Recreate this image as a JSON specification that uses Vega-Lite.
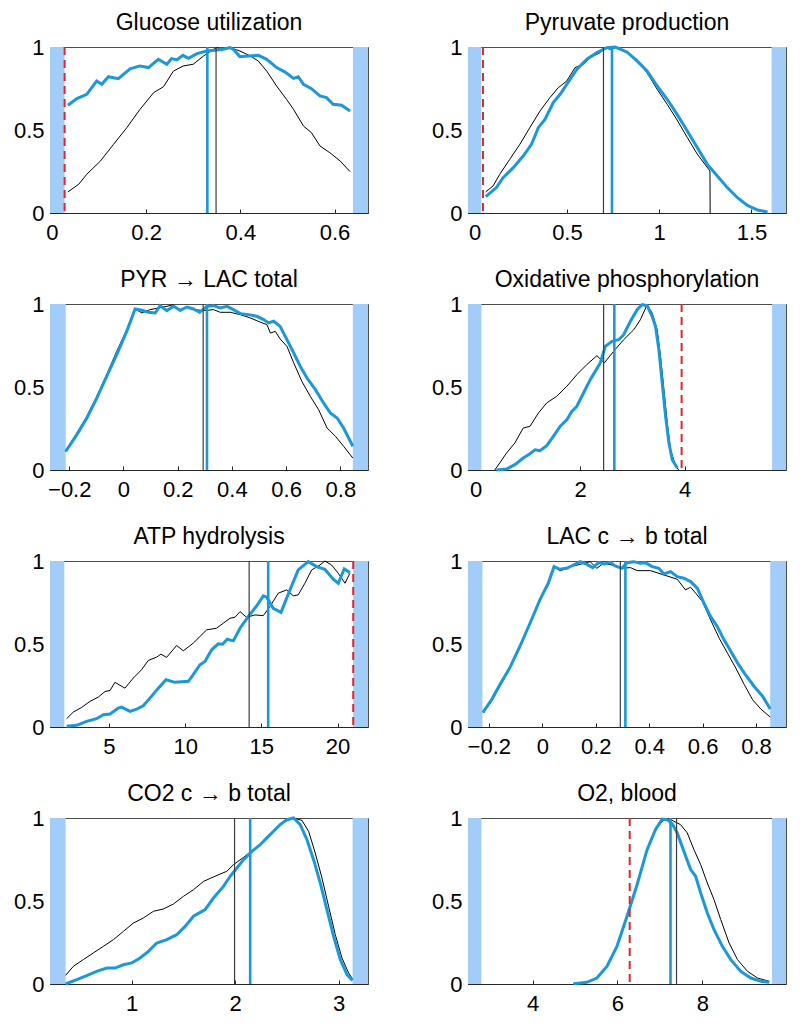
{
"$schema": "https://vega.github.io/schema/vega-lite/v6.json",
"padding": {"left": 12, "top": 11, "right": 10, "bottom": 10},
"background": "white",
"config": {
  "font": "Liberation Sans",
  "view": {"stroke": "#4d4d4d", "strokeWidth": 1},
  "axis": {"grid": false, "labelFont": "Liberation Sans", "labelFontSize": 22, "labelColor": "#000000", "domainColor": "#262626", "domainWidth": 1, "tickColor": "#262626", "tickSize": -4, "labelFlush": false, "labelOverlap": false, "zindex": 1},
  "axisX": {"labelPadding": 13.5},
  "axisY": {"labelPadding": 6, "ticks": false},
  "title": {"fontSize": 23, "font": "Liberation Sans", "fontWeight": "normal", "color": "#000000", "frame": "group", "anchor": "middle", "offset": 1}
},
"datasets": {
  "shades": [
    {"panel": 1, "x": -0.004, "x2": 0.027}, {"panel": 1, "x": 0.639, "x2": 0.671},
    {"panel": 2, "x": -0.036, "x2": 0.036}, {"panel": 2, "x": 1.609, "x2": 1.687},
    {"panel": 3, "x": -0.271, "x2": -0.213}, {"panel": 3, "x": 0.846, "x2": 0.902},
    {"panel": 4, "x": -0.147, "x2": 0.109}, {"panel": 4, "x": 5.673, "x2": 5.94},
    {"panel": 5, "x": 1.13, "x2": 2.07}, {"panel": 5, "x": 21.03, "x2": 22.0},
    {"panel": 6, "x": -0.278, "x2": -0.224}, {"panel": 6, "x": 0.853, "x2": 0.912},
    {"panel": 7, "x": 0.21, "x2": 0.361}, {"panel": 7, "x": 3.135, "x2": 3.284},
    {"panel": 8, "x": 2.477, "x2": 2.793}, {"panel": 8, "x": 9.641, "x2": 9.972}
  ],
  "vlines": [
    {"panel": 1, "kind": "k", "x": 0.3485}, {"panel": 1, "kind": "b", "x": 0.330}, {"panel": 1, "kind": "r", "x": 0.027},
    {"panel": 2, "kind": "k", "x": 0.698}, {"panel": 2, "kind": "b", "x": 0.744}, {"panel": 2, "kind": "r", "x": 0.045},
    {"panel": 3, "kind": "k", "x": 0.294}, {"panel": 3, "kind": "b", "x": 0.308},
    {"panel": 4, "kind": "k", "x": 2.449}, {"panel": 4, "kind": "b", "x": 2.654}, {"panel": 4, "kind": "r", "x": 3.942},
    {"panel": 5, "kind": "k", "x": 14.2}, {"panel": 5, "kind": "b", "x": 15.45}, {"panel": 5, "kind": "r", "x": 21.03},
    {"panel": 6, "kind": "k", "x": 0.292}, {"panel": 6, "kind": "b", "x": 0.311},
    {"panel": 7, "kind": "k", "x": 1.994}, {"panel": 7, "kind": "b", "x": 2.145},
    {"panel": 8, "kind": "k", "x": 7.392}, {"panel": 8, "kind": "b", "x": 7.25}, {"panel": 8, "kind": "r", "x": 6.288}
  ],
  "curves": [
    {"panel":1,"series":"k","x":0.034,"y":0.127},{"panel":1,"series":"k","x":0.057,"y":0.173},{"panel":1,"series":"k","x":0.074,"y":0.233},{"panel":1,"series":"k","x":0.103,"y":0.313},{"panel":1,"series":"k","x":0.131,"y":0.414},{"panel":1,"series":"k","x":0.159,"y":0.514},{"panel":1,"series":"k","x":0.187,"y":0.624},{"panel":1,"series":"k","x":0.216,"y":0.725},{"panel":1,"series":"k","x":0.237,"y":0.761},{"panel":1,"series":"k","x":0.258,"y":0.855},{"panel":1,"series":"k","x":0.279,"y":0.886},{"panel":1,"series":"k","x":0.300,"y":0.896},{"panel":1,"series":"k","x":0.322,"y":0.946},{"panel":1,"series":"k","x":0.343,"y":0.986},{"panel":1,"series":"k","x":0.351,"y":0.996},{"panel":1,"series":"k","x":0.360,"y":0.982},{"panel":1,"series":"k","x":0.378,"y":0.996},{"panel":1,"series":"k","x":0.399,"y":0.976},{"panel":1,"series":"k","x":0.421,"y":0.946},{"panel":1,"series":"k","x":0.438,"y":0.916},{"panel":1,"series":"k","x":0.456,"y":0.855},{"panel":1,"series":"k","x":0.477,"y":0.765},{"panel":1,"series":"k","x":0.498,"y":0.685},{"panel":1,"series":"k","x":0.513,"y":0.624},{"panel":1,"series":"k","x":0.534,"y":0.524},{"panel":1,"series":"k","x":0.551,"y":0.484},{"panel":1,"series":"k","x":0.569,"y":0.404},{"panel":1,"series":"k","x":0.590,"y":0.363},{"panel":1,"series":"k","x":0.612,"y":0.313},{"panel":1,"series":"k","x":0.633,"y":0.249},
    {"panel":1,"series":"b","x":0.034,"y":0.649},{"panel":1,"series":"b","x":0.053,"y":0.689},{"panel":1,"series":"b","x":0.074,"y":0.715},{"panel":1,"series":"b","x":0.095,"y":0.795},{"panel":1,"series":"b","x":0.106,"y":0.775},{"panel":1,"series":"b","x":0.120,"y":0.821},{"panel":1,"series":"b","x":0.141,"y":0.809},{"panel":1,"series":"b","x":0.166,"y":0.869},{"panel":1,"series":"b","x":0.187,"y":0.886},{"panel":1,"series":"b","x":0.205,"y":0.876},{"panel":1,"series":"b","x":0.226,"y":0.926},{"panel":1,"series":"b","x":0.244,"y":0.896},{"panel":1,"series":"b","x":0.254,"y":0.930},{"panel":1,"series":"b","x":0.265,"y":0.922},{"panel":1,"series":"b","x":0.278,"y":0.950},{"panel":1,"series":"b","x":0.290,"y":0.932},{"panel":1,"series":"b","x":0.308,"y":0.960},{"panel":1,"series":"b","x":0.329,"y":0.976},{"panel":1,"series":"b","x":0.350,"y":0.982},{"panel":1,"series":"b","x":0.364,"y":0.986},{"panel":1,"series":"b","x":0.378,"y":0.996},{"panel":1,"series":"b","x":0.385,"y":0.986},{"panel":1,"series":"b","x":0.399,"y":0.942},{"panel":1,"series":"b","x":0.417,"y":0.946},{"panel":1,"series":"b","x":0.438,"y":0.950},{"panel":1,"series":"b","x":0.456,"y":0.926},{"panel":1,"series":"b","x":0.477,"y":0.876},{"panel":1,"series":"b","x":0.495,"y":0.849},{"panel":1,"series":"b","x":0.513,"y":0.811},{"panel":1,"series":"b","x":0.523,"y":0.821},{"panel":1,"series":"b","x":0.534,"y":0.775},{"panel":1,"series":"b","x":0.551,"y":0.749},{"panel":1,"series":"b","x":0.569,"y":0.705},{"panel":1,"series":"b","x":0.583,"y":0.695},{"panel":1,"series":"b","x":0.597,"y":0.655},{"panel":1,"series":"b","x":0.615,"y":0.649},{"panel":1,"series":"b","x":0.633,"y":0.614},
    {"panel":2,"series":"k","x":0.060,"y":0.127},{"panel":2,"series":"k","x":0.100,"y":0.163},{"panel":2,"series":"k","x":0.136,"y":0.233},{"panel":2,"series":"k","x":0.190,"y":0.323},{"panel":2,"series":"k","x":0.245,"y":0.414},{"panel":2,"series":"k","x":0.299,"y":0.514},{"panel":2,"series":"k","x":0.354,"y":0.614},{"panel":2,"series":"k","x":0.408,"y":0.695},{"panel":2,"series":"k","x":0.453,"y":0.755},{"panel":2,"series":"k","x":0.499,"y":0.795},{"panel":2,"series":"k","x":0.544,"y":0.876},{"panel":2,"series":"k","x":0.590,"y":0.896},{"panel":2,"series":"k","x":0.626,"y":0.936},{"panel":2,"series":"k","x":0.680,"y":0.966},{"panel":2,"series":"k","x":0.707,"y":0.996},{"panel":2,"series":"k","x":0.735,"y":0.986},{"panel":2,"series":"k","x":0.762,"y":0.996},{"panel":2,"series":"k","x":0.825,"y":0.966},{"panel":2,"series":"k","x":0.880,"y":0.920},{"panel":2,"series":"k","x":0.934,"y":0.845},{"panel":2,"series":"k","x":0.989,"y":0.745},{"panel":2,"series":"k","x":1.043,"y":0.655},{"panel":2,"series":"k","x":1.097,"y":0.560},{"panel":2,"series":"k","x":1.152,"y":0.455},{"panel":2,"series":"k","x":1.206,"y":0.355},{"panel":2,"series":"k","x":1.275,"y":0.253},{"panel":2,"series":"k","x":1.276,"y":0},
    {"panel":2,"series":"b","x":0.060,"y":0.098},{"panel":2,"series":"b","x":0.118,"y":0.153},{"panel":2,"series":"b","x":0.154,"y":0.213},{"panel":2,"series":"b","x":0.209,"y":0.273},{"panel":2,"series":"b","x":0.263,"y":0.343},{"panel":2,"series":"b","x":0.308,"y":0.414},{"panel":2,"series":"b","x":0.345,"y":0.514},{"panel":2,"series":"b","x":0.381,"y":0.564},{"panel":2,"series":"b","x":0.426,"y":0.665},{"panel":2,"series":"b","x":0.463,"y":0.715},{"panel":2,"series":"b","x":0.517,"y":0.805},{"panel":2,"series":"b","x":0.553,"y":0.865},{"panel":2,"series":"b","x":0.608,"y":0.926},{"panel":2,"series":"b","x":0.662,"y":0.966},{"panel":2,"series":"b","x":0.716,"y":0.996},{"panel":2,"series":"b","x":0.762,"y":1.0},{"panel":2,"series":"b","x":0.825,"y":0.970},{"panel":2,"series":"b","x":0.880,"y":0.916},{"panel":2,"series":"b","x":0.934,"y":0.855},{"panel":2,"series":"b","x":0.989,"y":0.765},{"panel":2,"series":"b","x":1.043,"y":0.685},{"panel":2,"series":"b","x":1.097,"y":0.594},{"panel":2,"series":"b","x":1.152,"y":0.494},{"panel":2,"series":"b","x":1.206,"y":0.394},{"panel":2,"series":"b","x":1.261,"y":0.293},{"panel":2,"series":"b","x":1.315,"y":0.223},{"panel":2,"series":"b","x":1.369,"y":0.153},{"panel":2,"series":"b","x":1.424,"y":0.092},{"panel":2,"series":"b","x":1.478,"y":0.046},{"panel":2,"series":"b","x":1.533,"y":0.018},{"panel":2,"series":"b","x":1.587,"y":0.006},
    {"panel":3,"series":"k","x":-0.213,"y":0.112},{"panel":3,"series":"k","x":-0.172,"y":0.223},{"panel":3,"series":"k","x":-0.135,"y":0.323},{"panel":3,"series":"k","x":-0.098,"y":0.444},{"panel":3,"series":"k","x":-0.062,"y":0.574},{"panel":3,"series":"k","x":-0.025,"y":0.715},{"panel":3,"series":"k","x":0.012,"y":0.845},{"panel":3,"series":"k","x":0.043,"y":0.970},{"panel":3,"series":"k","x":0.068,"y":0.946},{"panel":3,"series":"k","x":0.098,"y":0.966},{"panel":3,"series":"k","x":0.129,"y":0.976},{"panel":3,"series":"k","x":0.160,"y":0.986},{"panel":3,"series":"k","x":0.185,"y":0.996},{"panel":3,"series":"k","x":0.209,"y":0.956},{"panel":3,"series":"k","x":0.234,"y":0.982},{"panel":3,"series":"k","x":0.265,"y":0.966},{"panel":3,"series":"k","x":0.295,"y":0.960},{"panel":3,"series":"k","x":0.332,"y":0.966},{"panel":3,"series":"k","x":0.357,"y":0.950},{"panel":3,"series":"k","x":0.394,"y":0.950},{"panel":3,"series":"k","x":0.431,"y":0.936},{"panel":3,"series":"k","x":0.468,"y":0.916},{"panel":3,"series":"k","x":0.505,"y":0.890},{"panel":3,"series":"k","x":0.529,"y":0.876},{"panel":3,"series":"k","x":0.542,"y":0.825},{"panel":3,"series":"k","x":0.560,"y":0.835},{"panel":3,"series":"k","x":0.578,"y":0.789},{"panel":3,"series":"k","x":0.603,"y":0.745},{"panel":3,"series":"k","x":0.628,"y":0.645},{"panel":3,"series":"k","x":0.658,"y":0.534},{"panel":3,"series":"k","x":0.689,"y":0.444},{"panel":3,"series":"k","x":0.720,"y":0.363},{"panel":3,"series":"k","x":0.751,"y":0.253},{"panel":3,"series":"k","x":0.782,"y":0.203},{"panel":3,"series":"k","x":0.812,"y":0.143},{"panel":3,"series":"k","x":0.846,"y":0.072},
    {"panel":3,"series":"b","x":-0.213,"y":0.112},{"panel":3,"series":"b","x":-0.172,"y":0.213},{"panel":3,"series":"b","x":-0.135,"y":0.313},{"panel":3,"series":"b","x":-0.098,"y":0.434},{"panel":3,"series":"b","x":-0.062,"y":0.564},{"panel":3,"series":"b","x":-0.025,"y":0.695},{"panel":3,"series":"b","x":0.012,"y":0.835},{"panel":3,"series":"b","x":0.043,"y":0.970},{"panel":3,"series":"b","x":0.068,"y":0.962},{"panel":3,"series":"b","x":0.092,"y":0.950},{"panel":3,"series":"b","x":0.117,"y":0.946},{"panel":3,"series":"b","x":0.135,"y":0.990},{"panel":3,"series":"b","x":0.160,"y":0.960},{"panel":3,"series":"b","x":0.185,"y":0.986},{"panel":3,"series":"b","x":0.209,"y":0.962},{"panel":3,"series":"b","x":0.234,"y":0.982},{"panel":3,"series":"b","x":0.258,"y":0.970},{"panel":3,"series":"b","x":0.281,"y":0.950},{"panel":3,"series":"b","x":0.308,"y":0.986},{"panel":3,"series":"b","x":0.332,"y":0.990},{"panel":3,"series":"b","x":0.357,"y":0.976},{"panel":3,"series":"b","x":0.382,"y":0.986},{"panel":3,"series":"b","x":0.406,"y":0.966},{"panel":3,"series":"b","x":0.431,"y":0.942},{"panel":3,"series":"b","x":0.462,"y":0.936},{"panel":3,"series":"b","x":0.492,"y":0.926},{"panel":3,"series":"b","x":0.517,"y":0.906},{"panel":3,"series":"b","x":0.535,"y":0.886},{"panel":3,"series":"b","x":0.554,"y":0.896},{"panel":3,"series":"b","x":0.578,"y":0.865},{"panel":3,"series":"b","x":0.603,"y":0.785},{"panel":3,"series":"b","x":0.628,"y":0.705},{"panel":3,"series":"b","x":0.652,"y":0.625},{"panel":3,"series":"b","x":0.677,"y":0.554},{"panel":3,"series":"b","x":0.708,"y":0.484},{"panel":3,"series":"b","x":0.738,"y":0.404},{"panel":3,"series":"b","x":0.763,"y":0.343},{"panel":3,"series":"b","x":0.788,"y":0.313},{"panel":3,"series":"b","x":0.812,"y":0.253},{"panel":3,"series":"b","x":0.846,"y":0.143},
    {"panel":4,"series":"k","x":0.365,"y":0},{"panel":4,"series":"k","x":0.46,"y":0.042},{"panel":4,"series":"k","x":0.59,"y":0.102},{"panel":4,"series":"k","x":0.75,"y":0.163},{"panel":4,"series":"k","x":0.91,"y":0.253},{"panel":4,"series":"k","x":1.04,"y":0.263},{"panel":4,"series":"k","x":1.2,"y":0.343},{"panel":4,"series":"k","x":1.36,"y":0.404},{"panel":4,"series":"k","x":1.55,"y":0.444},{"panel":4,"series":"k","x":1.744,"y":0.504},{"panel":4,"series":"k","x":1.936,"y":0.574},{"panel":4,"series":"k","x":2.128,"y":0.635},{"panel":4,"series":"k","x":2.321,"y":0.689},{"panel":4,"series":"k","x":2.462,"y":0.645},{"panel":4,"series":"k","x":2.641,"y":0.715},{"panel":4,"series":"k","x":2.833,"y":0.785},{"panel":4,"series":"k","x":3.026,"y":0.845},{"panel":4,"series":"k","x":3.154,"y":0.906},{"panel":4,"series":"k","x":3.282,"y":0.996},{"panel":4,"series":"k","x":3.378,"y":0.946},{"panel":4,"series":"k","x":3.474,"y":0.845},{"panel":4,"series":"k","x":3.538,"y":0.685},{"panel":4,"series":"k","x":3.603,"y":0.484},{"panel":4,"series":"k","x":3.667,"y":0.283},{"panel":4,"series":"k","x":3.731,"y":0.122},{"panel":4,"series":"k","x":3.827,"y":0.022},{"panel":4,"series":"k","x":3.891,"y":0},
    {"panel":4,"series":"b","x":0.397,"y":0},{"panel":4,"series":"b","x":0.59,"y":0.006},{"panel":4,"series":"b","x":0.75,"y":0.032},{"panel":4,"series":"b","x":0.91,"y":0.072},{"panel":4,"series":"b","x":1.04,"y":0.098},{"panel":4,"series":"b","x":1.135,"y":0.122},{"panel":4,"series":"b","x":1.23,"y":0.116},{"panel":4,"series":"b","x":1.36,"y":0.147},{"panel":4,"series":"b","x":1.487,"y":0.203},{"panel":4,"series":"b","x":1.615,"y":0.263},{"panel":4,"series":"b","x":1.744,"y":0.303},{"panel":4,"series":"b","x":1.84,"y":0.353},{"panel":4,"series":"b","x":1.936,"y":0.384},{"panel":4,"series":"b","x":2.064,"y":0.464},{"panel":4,"series":"b","x":2.192,"y":0.544},{"panel":4,"series":"b","x":2.288,"y":0.594},{"panel":4,"series":"b","x":2.385,"y":0.645},{"panel":4,"series":"b","x":2.481,"y":0.745},{"panel":4,"series":"b","x":2.609,"y":0.775},{"panel":4,"series":"b","x":2.737,"y":0.785},{"panel":4,"series":"b","x":2.833,"y":0.815},{"panel":4,"series":"b","x":2.962,"y":0.896},{"panel":4,"series":"b","x":3.090,"y":0.966},{"panel":4,"series":"b","x":3.186,"y":0.996},{"panel":4,"series":"b","x":3.282,"y":0.990},{"panel":4,"series":"b","x":3.378,"y":0.926},{"panel":4,"series":"b","x":3.442,"y":0.865},{"panel":4,"series":"b","x":3.506,"y":0.725},{"panel":4,"series":"b","x":3.571,"y":0.524},{"panel":4,"series":"b","x":3.635,"y":0.323},{"panel":4,"series":"b","x":3.699,"y":0.163},{"panel":4,"series":"b","x":3.763,"y":0.062},{"panel":4,"series":"b","x":3.859,"y":0.012},
    {"panel":5,"series":"k","x":2.22,"y":0.05},{"panel":5,"series":"k","x":2.66,"y":0.09},{"panel":5,"series":"k","x":3.21,"y":0.118},{"panel":5,"series":"k","x":3.75,"y":0.154},{"panel":5,"series":"k","x":4.30,"y":0.180},{"panel":5,"series":"k","x":4.74,"y":0.214},{"panel":5,"series":"k","x":5.07,"y":0.220},{"panel":5,"series":"k","x":5.39,"y":0.269},{"panel":5,"series":"k","x":6.05,"y":0.234},{"panel":5,"series":"k","x":6.60,"y":0.295},{"panel":5,"series":"k","x":7.14,"y":0.345},{"panel":5,"series":"k","x":7.58,"y":0.401},{"panel":5,"series":"k","x":8.13,"y":0.421},{"panel":5,"series":"k","x":8.41,"y":0.439},{"panel":5,"series":"k","x":8.78,"y":0.419},{"panel":5,"series":"k","x":9.44,"y":0.491},{"panel":5,"series":"k","x":9.88,"y":0.459},{"panel":5,"series":"k","x":10.53,"y":0.505},{"panel":5,"series":"k","x":10.97,"y":0.545},{"panel":5,"series":"k","x":11.41,"y":0.585},{"panel":5,"series":"k","x":12.06,"y":0.595},{"panel":5,"series":"k","x":12.50,"y":0.625},{"panel":5,"series":"k","x":12.94,"y":0.655},{"panel":5,"series":"k","x":13.27,"y":0.661},{"panel":5,"series":"k","x":13.60,"y":0.695},{"panel":5,"series":"k","x":14.03,"y":0.661},{"panel":5,"series":"k","x":14.58,"y":0.675},{"panel":5,"series":"k","x":15.13,"y":0.671},{"panel":5,"series":"k","x":15.56,"y":0.725},{"panel":5,"series":"k","x":16.11,"y":0.806},{"panel":5,"series":"k","x":16.66,"y":0.826},{"panel":5,"series":"k","x":17.10,"y":0.790},{"panel":5,"series":"k","x":17.42,"y":0.796},{"panel":5,"series":"k","x":17.86,"y":0.866},{"panel":5,"series":"k","x":18.30,"y":0.946},{"panel":5,"series":"k","x":18.85,"y":0.976},{"panel":5,"series":"k","x":19.17,"y":1.0},{"panel":5,"series":"k","x":19.61,"y":0.976},{"panel":5,"series":"k","x":20.05,"y":0.926},{"panel":5,"series":"k","x":20.49,"y":0.866},{"panel":5,"series":"k","x":20.81,"y":0.926},
    {"panel":5,"series":"b","x":2.22,"y":0.004},{"panel":5,"series":"b","x":2.88,"y":0.01},{"panel":5,"series":"b","x":3.53,"y":0.034},{"panel":5,"series":"b","x":4.19,"y":0.05},{"panel":5,"series":"b","x":4.63,"y":0.074},{"panel":5,"series":"b","x":5.07,"y":0.078},{"panel":5,"series":"b","x":5.61,"y":0.114},{"panel":5,"series":"b","x":5.83,"y":0.12},{"panel":5,"series":"b","x":6.38,"y":0.094},{"panel":5,"series":"b","x":6.82,"y":0.108},{"panel":5,"series":"b","x":7.25,"y":0.128},{"panel":5,"series":"b","x":7.69,"y":0.174},{"panel":5,"series":"b","x":8.24,"y":0.234},{"panel":5,"series":"b","x":8.74,"y":0.285},{"panel":5,"series":"b","x":9.33,"y":0.269},{"panel":5,"series":"b","x":10.21,"y":0.275},{"panel":5,"series":"b","x":10.53,"y":0.315},{"panel":5,"series":"b","x":10.97,"y":0.375},{"panel":5,"series":"b","x":11.30,"y":0.395},{"panel":5,"series":"b","x":11.74,"y":0.465},{"panel":5,"series":"b","x":12.17,"y":0.501},{"panel":5,"series":"b","x":12.46,"y":0.499},{"panel":5,"series":"b","x":12.76,"y":0.529},{"panel":5,"series":"b","x":13.16,"y":0.519},{"panel":5,"series":"b","x":13.60,"y":0.595},{"panel":5,"series":"b","x":14.14,"y":0.665},{"panel":5,"series":"b","x":14.69,"y":0.729},{"panel":5,"series":"b","x":15.13,"y":0.790},{"panel":5,"series":"b","x":15.35,"y":0.782},{"panel":5,"series":"b","x":15.78,"y":0.715},{"panel":5,"series":"b","x":16.29,"y":0.691},{"panel":5,"series":"b","x":16.88,"y":0.826},{"panel":5,"series":"b","x":17.42,"y":0.946},{"panel":5,"series":"b","x":18.08,"y":0.996},{"panel":5,"series":"b","x":18.63,"y":0.966},{"panel":5,"series":"b","x":19.17,"y":0.950},{"panel":5,"series":"b","x":19.72,"y":0.890},{"panel":5,"series":"b","x":20.05,"y":0.866},{"panel":5,"series":"b","x":20.44,"y":0.952},{"panel":5,"series":"b","x":20.81,"y":0.930},
    {"panel":6,"series":"k","x":-0.222,"y":0.084},{"panel":6,"series":"k","x":-0.190,"y":0.154},{"panel":6,"series":"k","x":-0.159,"y":0.244},{"panel":6,"series":"k","x":-0.122,"y":0.355},{"panel":6,"series":"k","x":-0.084,"y":0.475},{"panel":6,"series":"k","x":-0.046,"y":0.625},{"panel":6,"series":"k","x":-0.009,"y":0.766},{"panel":6,"series":"k","x":0.023,"y":0.856},{"panel":6,"series":"k","x":0.044,"y":0.970},{"panel":6,"series":"k","x":0.066,"y":0.940},{"panel":6,"series":"k","x":0.104,"y":0.966},{"panel":6,"series":"k","x":0.142,"y":0.980},{"panel":6,"series":"k","x":0.179,"y":0.996},{"panel":6,"series":"k","x":0.204,"y":0.956},{"panel":6,"series":"k","x":0.229,"y":0.986},{"panel":6,"series":"k","x":0.261,"y":0.976},{"panel":6,"series":"k","x":0.292,"y":0.956},{"panel":6,"series":"k","x":0.330,"y":0.960},{"panel":6,"series":"k","x":0.355,"y":0.942},{"panel":6,"series":"k","x":0.405,"y":0.942},{"panel":6,"series":"k","x":0.455,"y":0.916},{"panel":6,"series":"k","x":0.505,"y":0.890},{"panel":6,"series":"k","x":0.536,"y":0.826},{"panel":6,"series":"k","x":0.555,"y":0.842},{"panel":6,"series":"k","x":0.574,"y":0.806},{"panel":6,"series":"k","x":0.599,"y":0.756},{"panel":6,"series":"k","x":0.630,"y":0.645},{"panel":6,"series":"k","x":0.662,"y":0.535},{"panel":6,"series":"k","x":0.693,"y":0.445},{"panel":6,"series":"k","x":0.724,"y":0.355},{"panel":6,"series":"k","x":0.756,"y":0.255},{"panel":6,"series":"k","x":0.787,"y":0.164},{"panel":6,"series":"k","x":0.818,"y":0.108},{"panel":6,"series":"k","x":0.853,"y":0.060},
    {"panel":6,"series":"b","x":-0.222,"y":0.088},{"panel":6,"series":"b","x":-0.190,"y":0.164},{"panel":6,"series":"b","x":-0.159,"y":0.255},{"panel":6,"series":"b","x":-0.122,"y":0.355},{"panel":6,"series":"b","x":-0.084,"y":0.485},{"panel":6,"series":"b","x":-0.046,"y":0.625},{"panel":6,"series":"b","x":-0.009,"y":0.766},{"panel":6,"series":"b","x":0.023,"y":0.870},{"panel":6,"series":"b","x":0.044,"y":0.966},{"panel":6,"series":"b","x":0.066,"y":0.950},{"panel":6,"series":"b","x":0.091,"y":0.956},{"panel":6,"series":"b","x":0.117,"y":0.976},{"panel":6,"series":"b","x":0.142,"y":0.996},{"panel":6,"series":"b","x":0.167,"y":0.980},{"panel":6,"series":"b","x":0.189,"y":0.960},{"panel":6,"series":"b","x":0.211,"y":0.990},{"panel":6,"series":"b","x":0.232,"y":0.982},{"panel":6,"series":"b","x":0.254,"y":0.992},{"panel":6,"series":"b","x":0.273,"y":0.970},{"panel":6,"series":"b","x":0.298,"y":0.956},{"panel":6,"series":"b","x":0.317,"y":0.990},{"panel":6,"series":"b","x":0.342,"y":0.996},{"panel":6,"series":"b","x":0.367,"y":0.986},{"panel":6,"series":"b","x":0.386,"y":0.990},{"panel":6,"series":"b","x":0.411,"y":0.966},{"panel":6,"series":"b","x":0.436,"y":0.956},{"panel":6,"series":"b","x":0.455,"y":0.922},{"panel":6,"series":"b","x":0.480,"y":0.936},{"panel":6,"series":"b","x":0.505,"y":0.906},{"panel":6,"series":"b","x":0.530,"y":0.896},{"panel":6,"series":"b","x":0.555,"y":0.876},{"panel":6,"series":"b","x":0.580,"y":0.836},{"panel":6,"series":"b","x":0.605,"y":0.746},{"panel":6,"series":"b","x":0.630,"y":0.665},{"panel":6,"series":"b","x":0.655,"y":0.605},{"panel":6,"series":"b","x":0.680,"y":0.525},{"panel":6,"series":"b","x":0.706,"y":0.455},{"panel":6,"series":"b","x":0.731,"y":0.385},{"panel":6,"series":"b","x":0.756,"y":0.325},{"panel":6,"series":"b","x":0.793,"y":0.244},{"panel":6,"series":"b","x":0.825,"y":0.184},{"panel":6,"series":"b","x":0.853,"y":0.108},
    {"panel":7,"series":"k","x":0.361,"y":0.052},{"panel":7,"series":"k","x":0.435,"y":0.106},{"panel":7,"series":"k","x":0.532,"y":0.147},{"panel":7,"series":"k","x":0.629,"y":0.187},{"panel":7,"series":"k","x":0.726,"y":0.227},{"panel":7,"series":"k","x":0.823,"y":0.267},{"panel":7,"series":"k","x":0.919,"y":0.317},{"panel":7,"series":"k","x":1.016,"y":0.367},{"panel":7,"series":"k","x":1.113,"y":0.398},{"panel":7,"series":"k","x":1.210,"y":0.438},{"panel":7,"series":"k","x":1.306,"y":0.452},{"panel":7,"series":"k","x":1.403,"y":0.482},{"panel":7,"series":"k","x":1.5,"y":0.528},{"panel":7,"series":"k","x":1.597,"y":0.568},{"panel":7,"series":"k","x":1.694,"y":0.618},{"panel":7,"series":"k","x":1.790,"y":0.645},{"panel":7,"series":"k","x":1.919,"y":0.679},{"panel":7,"series":"k","x":1.984,"y":0.719},{"panel":7,"series":"k","x":2.081,"y":0.763},{"panel":7,"series":"k","x":2.177,"y":0.809},{"panel":7,"series":"k","x":2.274,"y":0.859},{"panel":7,"series":"k","x":2.371,"y":0.920},{"panel":7,"series":"k","x":2.468,"y":0.974},{"panel":7,"series":"k","x":2.565,"y":1.0},{"panel":7,"series":"k","x":2.645,"y":0.986},{"panel":7,"series":"k","x":2.710,"y":0.920},{"panel":7,"series":"k","x":2.774,"y":0.789},{"panel":7,"series":"k","x":2.839,"y":0.639},{"panel":7,"series":"k","x":2.903,"y":0.468},{"panel":7,"series":"k","x":2.968,"y":0.297},{"panel":7,"series":"k","x":3.032,"y":0.157},{"panel":7,"series":"k","x":3.097,"y":0.066},{"panel":7,"series":"k","x":3.135,"y":0.030},
    {"panel":7,"series":"b","x":0.361,"y":0},{"panel":7,"series":"b","x":0.468,"y":0.026},{"panel":7,"series":"b","x":0.565,"y":0.050},{"panel":7,"series":"b","x":0.661,"y":0.076},{"panel":7,"series":"b","x":0.758,"y":0.096},{"panel":7,"series":"b","x":0.839,"y":0.096},{"panel":7,"series":"b","x":0.919,"y":0.116},{"panel":7,"series":"b","x":1.0,"y":0.127},{"panel":7,"series":"b","x":1.081,"y":0.157},{"panel":7,"series":"b","x":1.161,"y":0.197},{"panel":7,"series":"b","x":1.242,"y":0.247},{"panel":7,"series":"b","x":1.339,"y":0.267},{"panel":7,"series":"b","x":1.435,"y":0.297},{"panel":7,"series":"b","x":1.516,"y":0.347},{"panel":7,"series":"b","x":1.597,"y":0.408},{"panel":7,"series":"b","x":1.710,"y":0.448},{"panel":7,"series":"b","x":1.790,"y":0.518},{"panel":7,"series":"b","x":1.887,"y":0.588},{"panel":7,"series":"b","x":1.952,"y":0.649},{"panel":7,"series":"b","x":2.016,"y":0.699},{"panel":7,"series":"b","x":2.081,"y":0.749},{"panel":7,"series":"b","x":2.161,"y":0.799},{"panel":7,"series":"b","x":2.242,"y":0.839},{"panel":7,"series":"b","x":2.306,"y":0.880},{"panel":7,"series":"b","x":2.371,"y":0.920},{"panel":7,"series":"b","x":2.435,"y":0.960},{"panel":7,"series":"b","x":2.5,"y":0.990},{"panel":7,"series":"b","x":2.565,"y":1.0},{"panel":7,"series":"b","x":2.629,"y":0.960},{"panel":7,"series":"b","x":2.694,"y":0.869},{"panel":7,"series":"b","x":2.758,"y":0.749},{"panel":7,"series":"b","x":2.823,"y":0.608},{"panel":7,"series":"b","x":2.887,"y":0.448},{"panel":7,"series":"b","x":2.952,"y":0.287},{"panel":7,"series":"b","x":3.016,"y":0.147},{"panel":7,"series":"b","x":3.081,"y":0.056},{"panel":7,"series":"b","x":3.135,"y":0.022},
    {"panel":8,"series":"k","x":4.963,"y":0.002},{"panel":8,"series":"k","x":5.278,"y":0.010},{"panel":8,"series":"k","x":5.515,"y":0.040},{"panel":8,"series":"k","x":5.751,"y":0.106},{"panel":8,"series":"k","x":5.988,"y":0.227},{"panel":8,"series":"k","x":6.225,"y":0.408},{"panel":8,"series":"k","x":6.462,"y":0.608},{"panel":8,"series":"k","x":6.698,"y":0.809},{"panel":8,"series":"k","x":6.895,"y":0.930},{"panel":8,"series":"k","x":7.093,"y":0.990},{"panel":8,"series":"k","x":7.235,"y":0.996},{"panel":8,"series":"k","x":7.329,"y":0.980},{"panel":8,"series":"k","x":7.487,"y":0.960},{"panel":8,"series":"k","x":7.645,"y":0.910},{"panel":8,"series":"k","x":7.803,"y":0.809},{"panel":8,"series":"k","x":7.961,"y":0.719},{"panel":8,"series":"k","x":8.118,"y":0.608},{"panel":8,"series":"k","x":8.276,"y":0.508},{"panel":8,"series":"k","x":8.434,"y":0.388},{"panel":8,"series":"k","x":8.631,"y":0.247},{"panel":8,"series":"k","x":8.828,"y":0.147},{"panel":8,"series":"k","x":9.065,"y":0.076},{"panel":8,"series":"k","x":9.302,"y":0.036},{"panel":8,"series":"k","x":9.578,"y":0.016},
    {"panel":8,"series":"b","x":4.963,"y":0.002},{"panel":8,"series":"b","x":5.278,"y":0.010},{"panel":8,"series":"b","x":5.515,"y":0.036},{"panel":8,"series":"b","x":5.751,"y":0.106},{"panel":8,"series":"b","x":5.988,"y":0.227},{"panel":8,"series":"b","x":6.225,"y":0.408},{"panel":8,"series":"b","x":6.462,"y":0.598},{"panel":8,"series":"b","x":6.698,"y":0.809},{"panel":8,"series":"b","x":6.895,"y":0.930},{"panel":8,"series":"b","x":7.053,"y":0.994},{"panel":8,"series":"b","x":7.172,"y":0.990},{"panel":8,"series":"b","x":7.290,"y":0.966},{"panel":8,"series":"b","x":7.408,"y":0.910},{"panel":8,"series":"b","x":7.566,"y":0.799},{"panel":8,"series":"b","x":7.724,"y":0.689},{"panel":8,"series":"b","x":7.842,"y":0.649},{"panel":8,"series":"b","x":7.961,"y":0.548},{"panel":8,"series":"b","x":8.118,"y":0.428},{"panel":8,"series":"b","x":8.276,"y":0.327},{"panel":8,"series":"b","x":8.473,"y":0.227},{"panel":8,"series":"b","x":8.671,"y":0.147},{"panel":8,"series":"b","x":8.907,"y":0.076},{"panel":8,"series":"b","x":9.144,"y":0.036},{"panel":8,"series":"b","x":9.381,"y":0.016},{"panel":8,"series":"b","x":9.578,"y":0.010}
  ]
},
"columns": 2,
"spacing": {"row": 91, "column": 100},
"bounds": "flush",
"concat": [
  {"title": "Glucose utilization", "width": 318, "height": 166,
   "encoding": {"x": {"field": "x", "type": "quantitative", "scale": {"domain": [-0.004, 0.671], "nice": false, "zero": false}, "axis": {"values": [0, 0.2, 0.4, 0.6], "format": "~g", "title": null}}},
   "layer": [
    {"data": {"name": "shades"}, "transform": [{"filter": "datum.panel == 1"}], "mark": {"type": "rect", "color": "#a2cdf8"}, "encoding": {"x2": {"field": "x2"}}},
    {"data": {"name": "curves"}, "transform": [{"filter": "datum.panel == 1 && datum.series == 'k'"}], "mark": {"type": "line", "color": "#000000", "strokeWidth": 1}, "encoding": {"y": {"field": "y", "type": "quantitative", "scale": {"domain": [0, 1], "nice": false}, "axis": {"values": [0, 0.5, 1], "format": "~g", "title": null}}}},
    {"data": {"name": "curves"}, "transform": [{"filter": "datum.panel == 1 && datum.series == 'b'"}], "mark": {"type": "line", "color": "#1a98d9", "strokeWidth": 3}, "encoding": {"y": {"field": "y", "type": "quantitative", "scale": {"domain": [0, 1], "nice": false}, "axis": {"values": [0, 0.5, 1], "format": "~g", "title": null}}}},
    {"data": {"name": "vlines"}, "transform": [{"filter": "datum.panel == 1 && datum.kind == 'k'"}], "mark": {"type": "rule", "color": "#3c3c3c", "strokeWidth": 1.2}, "encoding": {}},
    {"data": {"name": "vlines"}, "transform": [{"filter": "datum.panel == 1 && datum.kind == 'b'"}], "mark": {"type": "rule", "color": "#1a98d9", "strokeWidth": 2.6}, "encoding": {}},
    {"data": {"name": "vlines"}, "transform": [{"filter": "datum.panel == 1 && datum.kind == 'r'"}], "mark": {"type": "rule", "color": "#e3242b", "strokeWidth": 2, "strokeDash": [8, 5]}, "encoding": {}}
   ]},
  {"title": "Pyruvate production", "width": 318, "height": 166,
   "encoding": {"x": {"field": "x", "type": "quantitative", "scale": {"domain": [-0.036, 1.687], "nice": false, "zero": false}, "axis": {"values": [0, 0.5, 1, 1.5], "format": "~g", "title": null}}},
   "layer": [
    {"data": {"name": "shades"}, "transform": [{"filter": "datum.panel == 2"}], "mark": {"type": "rect", "color": "#a2cdf8"}, "encoding": {"x2": {"field": "x2"}}},
    {"data": {"name": "curves"}, "transform": [{"filter": "datum.panel == 2 && datum.series == 'k'"}], "mark": {"type": "line", "color": "#000000", "strokeWidth": 1}, "encoding": {"y": {"field": "y", "type": "quantitative", "scale": {"domain": [0, 1], "nice": false}, "axis": {"values": [0, 0.5, 1], "format": "~g", "title": null}}}},
    {"data": {"name": "curves"}, "transform": [{"filter": "datum.panel == 2 && datum.series == 'b'"}], "mark": {"type": "line", "color": "#1a98d9", "strokeWidth": 3}, "encoding": {"y": {"field": "y", "type": "quantitative", "scale": {"domain": [0, 1], "nice": false}, "axis": {"values": [0, 0.5, 1], "format": "~g", "title": null}}}},
    {"data": {"name": "vlines"}, "transform": [{"filter": "datum.panel == 2 && datum.kind == 'k'"}], "mark": {"type": "rule", "color": "#3c3c3c", "strokeWidth": 1.2}, "encoding": {}},
    {"data": {"name": "vlines"}, "transform": [{"filter": "datum.panel == 2 && datum.kind == 'b'"}], "mark": {"type": "rule", "color": "#1a98d9", "strokeWidth": 2.6}, "encoding": {}},
    {"data": {"name": "vlines"}, "transform": [{"filter": "datum.panel == 2 && datum.kind == 'r'"}], "mark": {"type": "rule", "color": "#e3242b", "strokeWidth": 2, "strokeDash": [8, 5]}, "encoding": {}}
   ]},
  {"title": "PYR → LAC total", "width": 318, "height": 166,
   "encoding": {"x": {"field": "x", "type": "quantitative", "scale": {"domain": [-0.271, 0.902], "nice": false, "zero": false}, "axis": {"values": [-0.2, 0, 0.2, 0.4, 0.6, 0.8], "format": "~g", "title": null}}},
   "layer": [
    {"data": {"name": "shades"}, "transform": [{"filter": "datum.panel == 3"}], "mark": {"type": "rect", "color": "#a2cdf8"}, "encoding": {"x2": {"field": "x2"}}},
    {"data": {"name": "curves"}, "transform": [{"filter": "datum.panel == 3 && datum.series == 'k'"}], "mark": {"type": "line", "color": "#000000", "strokeWidth": 1}, "encoding": {"y": {"field": "y", "type": "quantitative", "scale": {"domain": [0, 1], "nice": false}, "axis": {"values": [0, 0.5, 1], "format": "~g", "title": null}}}},
    {"data": {"name": "curves"}, "transform": [{"filter": "datum.panel == 3 && datum.series == 'b'"}], "mark": {"type": "line", "color": "#1a98d9", "strokeWidth": 3}, "encoding": {"y": {"field": "y", "type": "quantitative", "scale": {"domain": [0, 1], "nice": false}, "axis": {"values": [0, 0.5, 1], "format": "~g", "title": null}}}},
    {"data": {"name": "vlines"}, "transform": [{"filter": "datum.panel == 3 && datum.kind == 'k'"}], "mark": {"type": "rule", "color": "#3c3c3c", "strokeWidth": 1.2}, "encoding": {}},
    {"data": {"name": "vlines"}, "transform": [{"filter": "datum.panel == 3 && datum.kind == 'b'"}], "mark": {"type": "rule", "color": "#1a98d9", "strokeWidth": 2.6}, "encoding": {}}
   ]},
  {"title": "Oxidative phosphorylation", "width": 318, "height": 166,
   "encoding": {"x": {"field": "x", "type": "quantitative", "scale": {"domain": [-0.147, 5.94], "nice": false, "zero": false}, "axis": {"values": [0, 2, 4], "format": "~g", "title": null}}},
   "layer": [
    {"data": {"name": "shades"}, "transform": [{"filter": "datum.panel == 4"}], "mark": {"type": "rect", "color": "#a2cdf8"}, "encoding": {"x2": {"field": "x2"}}},
    {"data": {"name": "curves"}, "transform": [{"filter": "datum.panel == 4 && datum.series == 'k'"}], "mark": {"type": "line", "color": "#000000", "strokeWidth": 1}, "encoding": {"y": {"field": "y", "type": "quantitative", "scale": {"domain": [0, 1], "nice": false}, "axis": {"values": [0, 0.5, 1], "format": "~g", "title": null}}}},
    {"data": {"name": "curves"}, "transform": [{"filter": "datum.panel == 4 && datum.series == 'b'"}], "mark": {"type": "line", "color": "#1a98d9", "strokeWidth": 3}, "encoding": {"y": {"field": "y", "type": "quantitative", "scale": {"domain": [0, 1], "nice": false}, "axis": {"values": [0, 0.5, 1], "format": "~g", "title": null}}}},
    {"data": {"name": "vlines"}, "transform": [{"filter": "datum.panel == 4 && datum.kind == 'k'"}], "mark": {"type": "rule", "color": "#3c3c3c", "strokeWidth": 1.2}, "encoding": {}},
    {"data": {"name": "vlines"}, "transform": [{"filter": "datum.panel == 4 && datum.kind == 'b'"}], "mark": {"type": "rule", "color": "#1a98d9", "strokeWidth": 2.6}, "encoding": {}},
    {"data": {"name": "vlines"}, "transform": [{"filter": "datum.panel == 4 && datum.kind == 'r'"}], "mark": {"type": "rule", "color": "#e3242b", "strokeWidth": 2, "strokeDash": [8, 5]}, "encoding": {}}
   ]},
  {"title": "ATP hydrolysis", "width": 318, "height": 166,
   "encoding": {"x": {"field": "x", "type": "quantitative", "scale": {"domain": [1.13, 22.0], "nice": false, "zero": false}, "axis": {"values": [5, 10, 15, 20], "format": "~g", "title": null}}},
   "layer": [
    {"data": {"name": "shades"}, "transform": [{"filter": "datum.panel == 5"}], "mark": {"type": "rect", "color": "#a2cdf8"}, "encoding": {"x2": {"field": "x2"}}},
    {"data": {"name": "curves"}, "transform": [{"filter": "datum.panel == 5 && datum.series == 'k'"}], "mark": {"type": "line", "color": "#000000", "strokeWidth": 1}, "encoding": {"y": {"field": "y", "type": "quantitative", "scale": {"domain": [0, 1], "nice": false}, "axis": {"values": [0, 0.5, 1], "format": "~g", "title": null}}}},
    {"data": {"name": "curves"}, "transform": [{"filter": "datum.panel == 5 && datum.series == 'b'"}], "mark": {"type": "line", "color": "#1a98d9", "strokeWidth": 3}, "encoding": {"y": {"field": "y", "type": "quantitative", "scale": {"domain": [0, 1], "nice": false}, "axis": {"values": [0, 0.5, 1], "format": "~g", "title": null}}}},
    {"data": {"name": "vlines"}, "transform": [{"filter": "datum.panel == 5 && datum.kind == 'k'"}], "mark": {"type": "rule", "color": "#3c3c3c", "strokeWidth": 1.2}, "encoding": {}},
    {"data": {"name": "vlines"}, "transform": [{"filter": "datum.panel == 5 && datum.kind == 'b'"}], "mark": {"type": "rule", "color": "#1a98d9", "strokeWidth": 2.6}, "encoding": {}},
    {"data": {"name": "vlines"}, "transform": [{"filter": "datum.panel == 5 && datum.kind == 'r'"}], "mark": {"type": "rule", "color": "#e3242b", "strokeWidth": 2, "strokeDash": [8, 5]}, "encoding": {}}
   ]},
  {"title": "LAC c → b total", "width": 318, "height": 166,
   "encoding": {"x": {"field": "x", "type": "quantitative", "scale": {"domain": [-0.278, 0.912], "nice": false, "zero": false}, "axis": {"values": [-0.2, 0, 0.2, 0.4, 0.6, 0.8], "format": "~g", "title": null}}},
   "layer": [
    {"data": {"name": "shades"}, "transform": [{"filter": "datum.panel == 6"}], "mark": {"type": "rect", "color": "#a2cdf8"}, "encoding": {"x2": {"field": "x2"}}},
    {"data": {"name": "curves"}, "transform": [{"filter": "datum.panel == 6 && datum.series == 'k'"}], "mark": {"type": "line", "color": "#000000", "strokeWidth": 1}, "encoding": {"y": {"field": "y", "type": "quantitative", "scale": {"domain": [0, 1], "nice": false}, "axis": {"values": [0, 0.5, 1], "format": "~g", "title": null}}}},
    {"data": {"name": "curves"}, "transform": [{"filter": "datum.panel == 6 && datum.series == 'b'"}], "mark": {"type": "line", "color": "#1a98d9", "strokeWidth": 3}, "encoding": {"y": {"field": "y", "type": "quantitative", "scale": {"domain": [0, 1], "nice": false}, "axis": {"values": [0, 0.5, 1], "format": "~g", "title": null}}}},
    {"data": {"name": "vlines"}, "transform": [{"filter": "datum.panel == 6 && datum.kind == 'k'"}], "mark": {"type": "rule", "color": "#3c3c3c", "strokeWidth": 1.2}, "encoding": {}},
    {"data": {"name": "vlines"}, "transform": [{"filter": "datum.panel == 6 && datum.kind == 'b'"}], "mark": {"type": "rule", "color": "#1a98d9", "strokeWidth": 2.6}, "encoding": {}}
   ]},
  {"title": "CO2 c → b total", "width": 318, "height": 166,
   "encoding": {"x": {"field": "x", "type": "quantitative", "scale": {"domain": [0.21, 3.284], "nice": false, "zero": false}, "axis": {"values": [1, 2, 3], "format": "~g", "title": null}}},
   "layer": [
    {"data": {"name": "shades"}, "transform": [{"filter": "datum.panel == 7"}], "mark": {"type": "rect", "color": "#a2cdf8"}, "encoding": {"x2": {"field": "x2"}}},
    {"data": {"name": "curves"}, "transform": [{"filter": "datum.panel == 7 && datum.series == 'k'"}], "mark": {"type": "line", "color": "#000000", "strokeWidth": 1}, "encoding": {"y": {"field": "y", "type": "quantitative", "scale": {"domain": [0, 1], "nice": false}, "axis": {"values": [0, 0.5, 1], "format": "~g", "title": null}}}},
    {"data": {"name": "curves"}, "transform": [{"filter": "datum.panel == 7 && datum.series == 'b'"}], "mark": {"type": "line", "color": "#1a98d9", "strokeWidth": 3}, "encoding": {"y": {"field": "y", "type": "quantitative", "scale": {"domain": [0, 1], "nice": false}, "axis": {"values": [0, 0.5, 1], "format": "~g", "title": null}}}},
    {"data": {"name": "vlines"}, "transform": [{"filter": "datum.panel == 7 && datum.kind == 'k'"}], "mark": {"type": "rule", "color": "#3c3c3c", "strokeWidth": 1.2}, "encoding": {}},
    {"data": {"name": "vlines"}, "transform": [{"filter": "datum.panel == 7 && datum.kind == 'b'"}], "mark": {"type": "rule", "color": "#1a98d9", "strokeWidth": 2.6}, "encoding": {}}
   ]},
  {"title": "O2, blood", "width": 318, "height": 166,
   "encoding": {"x": {"field": "x", "type": "quantitative", "scale": {"domain": [2.477, 9.972], "nice": false, "zero": false}, "axis": {"values": [4, 6, 8], "format": "~g", "title": null}}},
   "layer": [
    {"data": {"name": "shades"}, "transform": [{"filter": "datum.panel == 8"}], "mark": {"type": "rect", "color": "#a2cdf8"}, "encoding": {"x2": {"field": "x2"}}},
    {"data": {"name": "curves"}, "transform": [{"filter": "datum.panel == 8 && datum.series == 'k'"}], "mark": {"type": "line", "color": "#000000", "strokeWidth": 1}, "encoding": {"y": {"field": "y", "type": "quantitative", "scale": {"domain": [0, 1], "nice": false}, "axis": {"values": [0, 0.5, 1], "format": "~g", "title": null}}}},
    {"data": {"name": "curves"}, "transform": [{"filter": "datum.panel == 8 && datum.series == 'b'"}], "mark": {"type": "line", "color": "#1a98d9", "strokeWidth": 3}, "encoding": {"y": {"field": "y", "type": "quantitative", "scale": {"domain": [0, 1], "nice": false}, "axis": {"values": [0, 0.5, 1], "format": "~g", "title": null}}}},
    {"data": {"name": "vlines"}, "transform": [{"filter": "datum.panel == 8 && datum.kind == 'k'"}], "mark": {"type": "rule", "color": "#3c3c3c", "strokeWidth": 1.2}, "encoding": {}},
    {"data": {"name": "vlines"}, "transform": [{"filter": "datum.panel == 8 && datum.kind == 'b'"}], "mark": {"type": "rule", "color": "#1a98d9", "strokeWidth": 2.6}, "encoding": {}},
    {"data": {"name": "vlines"}, "transform": [{"filter": "datum.panel == 8 && datum.kind == 'r'"}], "mark": {"type": "rule", "color": "#e3242b", "strokeWidth": 2, "strokeDash": [8, 5]}, "encoding": {}}
   ]}
]
}
